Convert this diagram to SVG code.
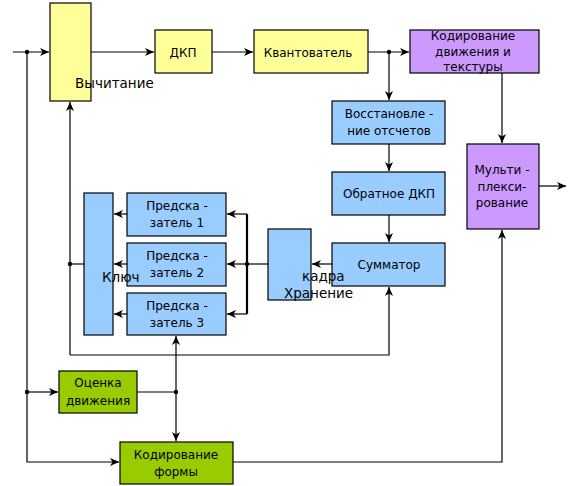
<svg xmlns="http://www.w3.org/2000/svg" width="580" height="486" viewBox="0 0 580 486">
<style>
rect{stroke:#000;stroke-width:1.2}
.y{fill:#ffff99}.b{fill:#99ccff}.p{fill:#cc99ff}.g{fill:#99cc00}
text{font-family:"DejaVu Sans","Liberation Sans",sans-serif;font-size:12px;fill:#000;text-anchor:middle}
.big{font-size:13.5px;text-anchor:start}
#conn path,#conn line{fill:none;stroke:#000;stroke-width:1.2}
</style>
<defs>
<marker id="a" markerUnits="userSpaceOnUse" markerWidth="10" markerHeight="10" viewBox="0 0 10 10" refX="9" refY="5" orient="auto">
<path d="M0,1 L9,5 L0,9 L2.5,5 z" fill="#000"/>
</marker>
</defs>
<rect width="580" height="486" fill="#fff" style="stroke:none"/>
<g id="conn">
<path d="M13,52 H49" marker-end="url(#a)"/>
<path d="M91,52 H154" marker-end="url(#a)"/>
<path d="M212,52 H253" marker-end="url(#a)"/>
<path d="M368,52 H409" marker-end="url(#a)"/>
<path d="M389,52 V100" marker-end="url(#a)"/>
<path d="M389,144 V171" marker-end="url(#a)"/>
<path d="M389,215 V242" marker-end="url(#a)"/>
<path d="M502,73 V143" marker-end="url(#a)"/>
<path d="M539,186 H566" marker-end="url(#a)"/>
<path d="M332,264 H312" marker-end="url(#a)"/>
<path d="M268,264 H247"/>
<line x1="247" y1="214" x2="247" y2="314" style="stroke-width:2.2"/>
<path d="M247,214 H227" marker-end="url(#a)"/>
<path d="M247,264 H227" marker-end="url(#a)"/>
<path d="M247,314 H227" marker-end="url(#a)"/>
<path d="M127,214 H114" marker-end="url(#a)"/>
<path d="M127,264 H114" marker-end="url(#a)"/>
<path d="M127,314 H114" marker-end="url(#a)"/>
<path d="M84,264 H70"/>
<path d="M70,355 V102" marker-end="url(#a)"/>
<path d="M70,355 H389 V287" marker-end="url(#a)"/>
<path d="M27,52 V462 H119" marker-end="url(#a)"/>
<path d="M27,392 H58" marker-end="url(#a)"/>
<path d="M137,392 H176"/>
<path d="M176,392 V336" marker-end="url(#a)"/>
<path d="M176,392 V441" marker-end="url(#a)"/>
<path d="M233,462 H502 V230" marker-end="url(#a)"/>
<circle cx="27" cy="52" r="2.2"/>
<circle cx="389" cy="52" r="2.2"/>
<circle cx="247" cy="264" r="2.2"/>
<circle cx="70" cy="264" r="2.2"/>
<circle cx="27" cy="392" r="2.2"/>
<circle cx="176" cy="392" r="2.2"/>
</g>
<g id="n-sub"><rect class="y" x="50" y="3" width="41" height="98"/></g>
<g id="n-dct"><rect class="y" x="155" y="30" width="57" height="43"/><text x="183" y="57">ДКП</text></g>
<g id="n-quant"><rect class="y" x="254" y="30" width="114" height="43"/><text x="308" y="57">Квантователь</text></g>
<g id="n-mtc"><rect class="p" x="410" y="30" width="129" height="43"/><text x="473" y="40">Кодирование</text><text x="473" y="56">движения и</text><text x="473" y="71">текстуры</text></g>
<g id="n-rest"><rect class="b" x="332" y="101" width="113" height="43"/><text x="389" y="118">Восстановле -</text><text x="389" y="135">ние отсчетов</text></g>
<g id="n-idct"><rect class="b" x="332" y="172" width="113" height="43"/><text x="389" y="198">Обратное ДКП</text></g>
<g id="n-sum"><rect class="b" x="332" y="243" width="113" height="43"/><text x="389" y="269">Сумматор</text></g>
<g id="n-mux"><rect class="p" x="467" y="144" width="72" height="85"/><text x="502" y="174">Мульти -</text><text x="502" y="191">плекси-</text><text x="502" y="207">рование</text></g>
<g id="n-p1"><rect class="b" x="127" y="193" width="99" height="43"/><text x="177" y="210">Предска -</text><text x="177" y="227">затель  1</text></g>
<g id="n-p2"><rect class="b" x="127" y="243" width="99" height="43"/><text x="177" y="260">Предска -</text><text x="177" y="277">затель  2</text></g>
<g id="n-p3"><rect class="b" x="127" y="293" width="99" height="42"/><text x="177" y="310">Предска -</text><text x="177" y="327">затель  3</text></g>
<g id="n-key"><rect class="b" x="84" y="193" width="29" height="142"/></g>
<g id="n-store"><rect class="b" x="268" y="229" width="43" height="71"/></g>
<g id="n-me"><rect class="g" x="59" y="371" width="78" height="42"/><text x="98" y="387">Оценка</text><text x="98" y="405">движения</text></g>
<g id="n-shape"><rect class="g" x="120" y="442" width="113" height="42"/><text x="176" y="459">Кодирование</text><text x="176" y="476">формы</text></g>
<g id="labels">
<text class="big" x="75" y="88">Вычитание</text>
<text class="big" x="102" y="282">Ключ</text>
<text class="big" x="302" y="281">кадра</text>
<text class="big" x="284" y="298">Хранение</text>
</g>
</svg>
